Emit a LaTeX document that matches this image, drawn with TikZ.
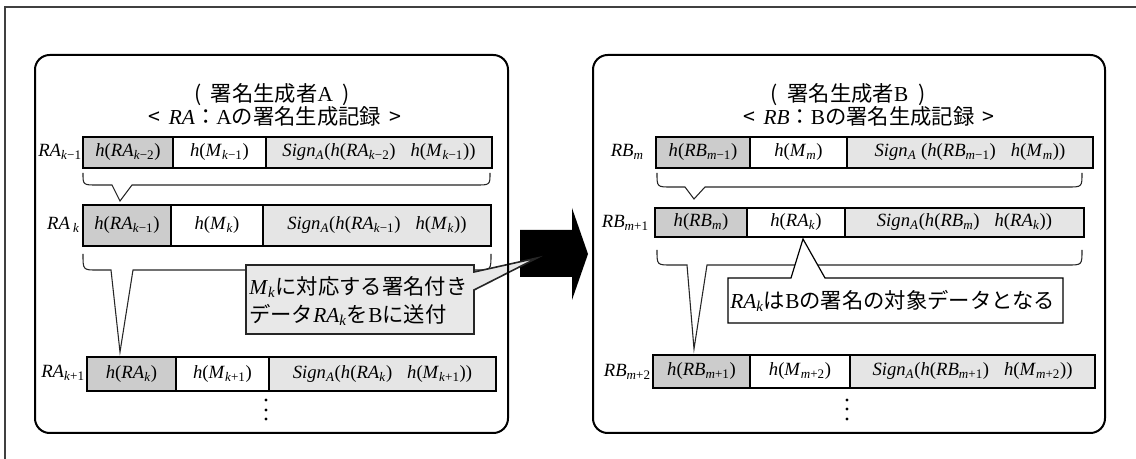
\documentclass[tikz,border=0pt]{standalone}
\usepackage{fontspec}
\setmainfont{Liberation Serif}
\newfontfamily\jp{Noto Sans CJK JP}
\newcommand\J[1]{{\jp #1}}
\newcommand\mi[1]{\textit{#1}}
\newcommand\sbx[1]{\textsubscript{#1}}
\def\px{0.75pt}
% one cell of a record: fill, name, centre, width, height, text
\newcommand\cell[6]{\node[cellbox,fill=#1,minimum width=#4*\px,minimum height=#5*\px] (#2) at (#3) {#6};}
% brace under a record with a pointer: xl, xr, ytop, ybot, pointer-left x, tip, pointer-right x
\newcommand\recbrace[7]{\draw[bracestyle] (#1,#3) .. controls (#1,#4) .. (#1+14,#4) -- (#5,#4) -- (#6) -- (#7,#4) -- (#2-14,#4) .. controls (#2,#4) .. (#2,#3);}
\begin{document}
\begin{tikzpicture}[x=0.75pt,y=-0.75pt,
  cellbox/.style={draw=black,line width=1.5pt,inner sep=0pt,font=\fontsize{14}{16}\selectfont},
  lbl/.style={inner sep=0pt,font=\fontsize{14}{16}\selectfont},
  ttl/.style={inner sep=0pt,font=\fontsize{16}{18}\selectfont},
  panel/.style={draw=black,line width=1.5pt,rounded corners=11pt},
  bracestyle/.style={draw=black!85,line width=0.8pt,line join=miter},
  frame/.style={draw=black!75,line width=0.8pt}]
\useasboundingbox (0,0) rectangle (1136,459);

% outer frame (top and left sides)
\draw[frame] (5,459) -- (5,7) -- (1136,7);

% panel backgrounds
\fill[white,rounded corners=11pt] (35,55) rectangle (508,433);
\fill[white,rounded corners=11pt] (593,55) rectangle (1105,433);

% ---------------- signer A ----------------
\node[ttl] (ta1) at (272,95) {\J{(}\hspace{0.45em}\J{署名生成者}A\hspace{0.45em}\J{)}};
\node[ttl] (ta2) at (275,116) {\J{<}\hspace{0.4em}\mi{RA}\J{：}A\J{の署名生成記録}\hspace{0.4em}\J{>}};

\node[lbl,anchor=east] (la1) at (82,152) {\mi{RA}\sbx{\mi{k}−1}};
\cell{gray!40}{a1c1}{128,152.5}{90}{31}{\mi{h}(\mi{RA}\sbx{\mi{k}−2})}
\cell{white}{a1c2}{219.5,152.5}{93}{31}{\mi{h}(\mi{M}\sbx{\mi{k}−1})}
\cell{gray!20}{a1c3}{379,152.5}{226}{31}{\mi{Sign}\sbx{\mi{A}}(\mi{h}(\mi{RA}\sbx{\mi{k}−2})\hspace{0.8em}\mi{h}(\mi{M}\sbx{\mi{k}−1}))}

\node[lbl,anchor=east] (la2) at (80,225) {\mi{RA}\,\sbx{\mi{k}}};
\cell{gray!40}{a2c1}{127,225.5}{88}{41}{\mi{h}(\mi{RA}\sbx{\mi{k}−1})}
\cell{white}{a2c2}{217,225.5}{92}{41}{\mi{h}(\mi{M}\sbx{\mi{k}})}
\cell{gray!20}{a2c3}{377,225.5}{228}{41}{\mi{Sign}\sbx{\mi{A}}(\mi{h}(\mi{RA}\sbx{\mi{k}−1})\hspace{0.8em}\mi{h}(\mi{M}\sbx{\mi{k}}))}

\node[lbl,anchor=east] (la3) at (85,373) {\mi{RA}\sbx{\mi{k}+1}};
\cell{gray!40}{a3c1}{131.5,374}{89}{34}{\mi{h}(\mi{RA}\sbx{\mi{k}})}
\cell{white}{a3c2}{222.5,374}{93}{34}{\mi{h}(\mi{M}\sbx{\mi{k}+1})}
\cell{gray!20}{a3c3}{382.5,374}{227}{34}{\mi{Sign}\sbx{\mi{A}}(\mi{h}(\mi{RA}\sbx{\mi{k}})\hspace{0.8em}\mi{h}(\mi{M}\sbx{\mi{k}+1}))}

\recbrace{83}{490}{173}{185}{112}{120,201}{132}
\recbrace{83}{491}{254}{270}{111}{120,352}{133}

\foreach \yy in {400,410,419} \fill (266,\yy) circle (1.6);

% ---------------- signer B ----------------
\node[ttl] (tb1) at (848,95) {\J{(}\hspace{0.45em}\J{署名生成者}B\hspace{0.45em}\J{)}};
\node[ttl] (tb2) at (869,116) {\J{<}\hspace{0.4em}\mi{RB}\J{：}B\J{の署名生成記録}\hspace{0.4em}\J{>}};

\node[lbl,anchor=east] (lb1) at (644,152) {\mi{RB}\sbx{\mi{m}}};
\cell{gray!40}{b1c1}{703,152.5}{94}{31}{\mi{h}(\mi{RB}\sbx{\mi{m}−1})}
\cell{white}{b1c2}{798.5,152.5}{97}{31}{\mi{h}(\mi{M}\sbx{\mi{m}})}
\cell{gray!20}{b1c3}{970,152.5}{246}{31}{\mi{Sign}\sbx{\mi{A}} (\mi{h}(\mi{RB}\sbx{\mi{m}−1})\hspace{0.8em}\mi{h}(\mi{M}\sbx{\mi{m}}))}

\node[lbl,anchor=east] (lb2) at (649,223) {\mi{RB}\sbx{\mi{m}+1}};
\cell{gray!40}{b2c1}{701,222.5}{92}{29}{\mi{h}(\mi{RB}\sbx{\mi{m}})}
\cell{white}{b2c2}{796,222.5}{98}{29}{\mi{h}(\mi{RA}\sbx{\mi{k}})}
\cell{gray!20}{b2c3}{964.5,222.5}{239}{29}{\mi{Sign}\sbx{\mi{A}}(\mi{h}(\mi{RB}\sbx{\mi{m}})\hspace{0.8em}\mi{h}(\mi{RA}\sbx{\mi{k}}))}

\node[lbl,anchor=east] (lb3) at (651,372) {\mi{RB}\sbx{\mi{m}+2}};
\cell{gray!40}{b3c1}{701.5,371.5}{97}{33}{\mi{h}(\mi{RB}\sbx{\mi{m}+1})}
\cell{white}{b3c2}{800,371.5}{100}{33}{\mi{h}(\mi{M}\sbx{\mi{m}+2})}
\cell{gray!20}{b3c3}{972.5,371.5}{245}{33}{\mi{Sign}\sbx{\mi{A}}(\mi{h}(\mi{RB}\sbx{\mi{m}+1})\hspace{0.8em}\mi{h}(\mi{M}\sbx{\mi{m}+2}))}

\recbrace{657}{1082}{173}{187}{685}{694,199}{705}
\recbrace{657}{1082}{250}{265}{687}{694,349}{707}

\foreach \yy in {400,409,419} \fill (847,\yy) circle (1.6);

% callout: RA_k becomes data signed by B
\filldraw[fill=white,draw=black,line width=0.9pt] (728,278) -- (791,278) -- (803,239) -- (825,278) -- (1063,278) -- (1063,323) -- (728,323) -- cycle;
\node[anchor=west,inner sep=0pt,font=\fontsize{16}{20}\selectfont] (nb) at (730,301)
  {\mi{RA}\sbx{\mi{k}}\J{は}B\J{の署名の対象データとなる}};

% ---------------- transfer arrow ----------------
\fill[black] (520,230) -- (572,230) -- (572,208) -- (588,254) -- (572,300) -- (572,277) -- (520,277) -- cycle;

% callout: RA_k is sent to B
\filldraw[fill=gray!18,draw=black!85,line width=1.2pt] (246,265) -- (474,265) -- (474,272) -- (537,258) -- (474,290) -- (474,334) -- (246,334) -- cycle;
\node[anchor=west,inner sep=0pt,align=left,font=\fontsize{16}{21}\selectfont] (na) at (249,301)
  {\mi{M}\sbx{\mi{k}}\J{に対応する署名付き}\\\J{データ}\mi{RA}\sbx{\mi{k}}\J{を}B\J{に送付}};

% panel outlines
\draw[panel] (35,55) rectangle (508,433);
\draw[panel] (593,55) rectangle (1105,433);
\end{tikzpicture}
\end{document}
